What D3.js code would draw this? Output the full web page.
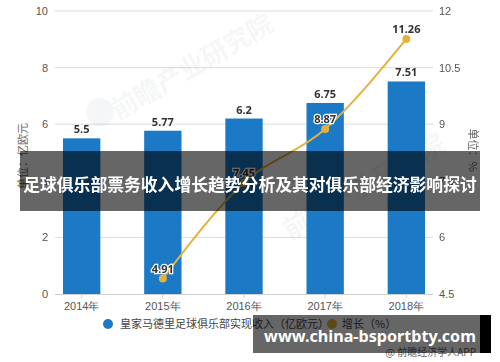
<!DOCTYPE html>
<html><head><meta charset="utf-8">
<script src="https://cdn.jsdelivr.net/npm/d3@7"></script>
<style>
body{margin:0;background:#fff;}
svg{display:block;font-family:"Noto Sans","Noto Sans CJK SC",sans-serif;}
</style></head>
<body><svg id="c" width="500" height="362"></svg>
<script>
const years = ["2014年","2015年","2016年","2017年","2018年"];
const revenue = [5.5,5.77,6.2,6.75,7.51];
const growthYears = ["2015年","2016年","2017年","2018年"];
const growth = [4.91,7.45,8.87,11.26];
const leftTicks = [0,2,4,6,8,10];
const rightTicks = [4.5,6,7.5,9,10.5,12];
const legendLabels = ["皇家马德里足球俱乐部实现收入（亿欧元）","增长（%）"];
const title = "足球俱乐部票务收入增长趋势分析及其对俱乐部经济影响探讨";
const siteText = "www.china-bsportbty.com";
const sourceText = "@ 前瞻经济学人APP";

const svg = d3.select("#c");
const plotL=55, plotR=433, plotT=11, plotB=294;
const x = d3.scaleBand().domain(years).range([63,425]).paddingInner(0.54).paddingOuter(0);
const yL = d3.scaleLinear().domain([0,10]).range([plotB,plotT]);
const yR = d3.scaleLinear().domain([4.5,12]).range([plotB,plotT]);

function fitText(sel, target){
  const fs = +sel.attr("font-size");
  const len = sel.node().getComputedTextLength();
  if(len>0) sel.attr("font-size", fs*target/len);
}

// gridlines
svg.append("g").selectAll("line").data(leftTicks.slice(1)).join("line")
  .attr("x1",plotL).attr("x2",plotR).attr("y1",d=>yL(d)).attr("y2",d=>yL(d))
  .attr("stroke","#dcdcdc").attr("stroke-width",1);

// watermark
const wm = svg.append("g").attr("opacity",0.06).attr("fill","#5a6a80");
wm.append("circle").attr("cx",100).attr("cy",112).attr("r",14);
wm.append("text").attr("transform","translate(118,120) rotate(-30)")
  .attr("font-size",26).attr("font-weight","bold").attr("font-family","Noto Sans CJK SC").text("前瞻产业研究院");
wm.append("text").attr("transform","translate(290,240) rotate(-30)")
  .attr("font-size",26).attr("font-weight","bold").attr("font-family","Noto Sans CJK SC").text("前瞻产业研究院");

// left axis
const axL = svg.append("g").attr("transform",`translate(${plotL},0)`)
  .call(d3.axisLeft(yL).tickValues(leftTicks).tickSize(0).tickPadding(7));
axL.select(".domain").remove();
axL.selectAll("text").attr("fill","#555").attr("font-size",11);

// right axis
const axR = svg.append("g").attr("transform",`translate(${plotR},0)`)
  .call(d3.axisRight(yR).tickValues(rightTicks).tickFormat(d3.format("")).tickSize(0).tickPadding(6));
axR.select(".domain").remove();
axR.selectAll("text").attr("fill","#555").attr("font-size",11);

// bottom axis
const axB = svg.append("g").attr("transform",`translate(0,${plotB})`)
  .call(d3.axisBottom(x).tickSize(4).tickPadding(4));
axB.select(".domain").attr("d",`M${plotL},0.5H${plotR}`).attr("stroke","#cfcfcf");
axB.selectAll(".tick line").attr("stroke","#cfcfcf");
axB.selectAll("text").attr("fill","#555").attr("font-size",11);

// bars
svg.append("g").selectAll("rect").data(revenue).join("rect")
  .attr("x",(d,i)=>x(years[i])).attr("width",x.bandwidth())
  .attr("y",d=>yL(d)).attr("height",d=>plotB-yL(d))
  .attr("fill","#1b79c5");
svg.append("g").selectAll("text").data(revenue).join("text")
  .attr("x",(d,i)=>x(years[i])+x.bandwidth()/2).attr("y",d=>yL(d)-5)
  .attr("text-anchor","middle").attr("font-size",11).attr("font-weight","bold")
  .attr("fill","#333").text(d=>d);

// line
const cx = i=>x(growthYears[i])+x.bandwidth()/2;
const line = d3.line().x((d,i)=>cx(i)).y(d=>yR(d)).curve(d3.curveMonotoneX);
svg.append("path").datum(growth).attr("d",line).attr("fill","none")
  .attr("stroke","#e3b23c").attr("stroke-width",2);
svg.append("g").selectAll("circle").data(growth).join("circle")
  .attr("cx",(d,i)=>cx(i)).attr("cy",d=>yR(d)).attr("r",4).attr("fill","#e3b23c");
svg.append("g").selectAll("text").data(growth).join("text")
  .attr("x",(d,i)=>cx(i)).attr("y",d=>yR(d)-6)
  .attr("text-anchor","middle").attr("font-size",11).attr("font-weight","bold")
  .attr("fill","#333").attr("stroke","#fff").attr("stroke-width",2.5)
  .attr("paint-order","stroke").text(d=>d);

// axis titles
svg.append("text").attr("transform","translate(27,156) rotate(-90)")
  .attr("text-anchor","middle").attr("font-size",11).attr("fill","#666")
  .attr("font-family","Noto Sans CJK SC").text("单位：亿欧元");
svg.append("text").attr("transform","translate(469,150) rotate(90)")
  .attr("text-anchor","middle").attr("font-size",11).attr("fill","#666")
  .attr("font-family","Noto Sans CJK SC").text("单位：%");

// legend
const lg = svg.append("g").attr("font-family","Noto Sans CJK SC");
lg.append("circle").attr("cx",108).attr("cy",324).attr("r",5).attr("fill","#1b79c5");
lg.append("text").attr("x",120).attr("y",328).attr("font-size",11).attr("fill","#444").text(legendLabels[0]);
lg.append("circle").attr("cx",332).attr("cy",324).attr("r",5).attr("fill","#e3b23c");
lg.append("text").attr("x",342).attr("y",328).attr("font-size",11).attr("fill","#444").text(legendLabels[1]);

// source
svg.append("text").attr("x",476).attr("y",356).attr("text-anchor","end")
  .attr("font-size",10).attr("fill","#666").attr("font-family","Noto Sans CJK SC").text(sourceText);

// title banner
svg.append("rect").attr("x",20).attr("y",151).attr("width",460).attr("height",60)
  .attr("fill","#000").attr("opacity",0.6);
const tt = svg.append("text").attr("x",250).attr("y",191).attr("text-anchor","middle")
  .attr("font-size",17).attr("font-weight","bold").attr("fill","#fff")
  .attr("font-family","Noto Sans CJK SC").text(title);
fitText(tt, 454);

// site banner
svg.append("rect").attr("x",253).attr("y",315).attr("width",227).attr("height",38)
  .attr("fill","#000").attr("opacity",0.6);
svg.append("rect").attr("x",480).attr("y",315).attr("width",11).attr("height",38).attr("fill","#000");
const st = svg.append("text").attr("x",370).attr("y",342).attr("text-anchor","middle")
  .attr("font-size",20).attr("font-weight","bold").attr("fill","#fff")
  .attr("font-family","Noto Sans, DejaVu Sans, sans-serif").text(siteText);
fitText(st, 212);
</script></body></html>
